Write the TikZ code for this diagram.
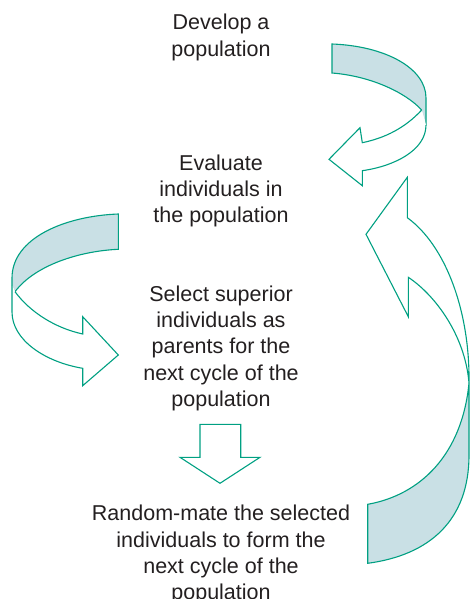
\documentclass[tikz,border=0pt]{standalone}
\usepackage{fontspec}
\setmainfont{Liberation Sans}
\usepackage{tikz}
\usetikzlibrary{arrows}
\definecolor{tealgreen}{RGB}{0,160,130}
\definecolor{bandblue}{RGB}{201,224,229}
\definecolor{textgray}{RGB}{35,31,32}

\begin{document}
\begin{tikzpicture}[x=1pt, y=-1pt, % 1 Einheit = 1pt, y zeigt nach unten
  band/.style={fill=bandblue, draw=tealgreen, line width=1.1pt},
  front/.style={fill=white, draw=tealgreen, line width=1.1pt},
  schritt/.style={align=center, inner sep=0pt, anchor=north, text=textgray, font=\fontsize{21.5}{26.3}\selectfont}]

\useasboundingbox (0,0) rectangle (470,599);

% Schritte
\node[schritt] (develop) at (221,14.2) {Develop a\\population};
\node[schritt] (evaluate) at (221,154.5) {Evaluate\\individuals in\\the population};
\node[schritt] (select) at (221,285.5) {Select superior\\individuals as\\parents for the\\next cycle of the\\population};
\node[schritt] (mate) at (221,505) {Random-mate the selected\\individuals to form the\\next cycle of the\\population};

% Pfeil oben rechts
\draw[band] (421.7,110) .. controls (405,92) and (370,76) .. (332,73) -- (332,44)
  .. controls (385,46) and (426,68) .. (426,98) -- (426,125);
\draw[front] (421.7,110) .. controls (405,128) and (385,138) .. (362.3,142.7) -- (360,127.7)
  -- (329,159.3) -- (362.3,185.7) -- (362.3,170.7) .. controls (395,166) and (426,150) .. (426,125);

% Pfeil links
\draw[band] (15,291.7) .. controls (35,265) and (80,251) .. (118.3,249.3) -- (118.3,214)
  .. controls (65,216) and (12,238) .. (12,278) -- (12,285);
\draw[front] (15,291.7) .. controls (30,312) and (55,328) .. (82.7,334) -- (82.7,316.7)
  -- (118.3,355) -- (82.7,385.7) -- (82.7,368.3) .. controls (45,362) and (12,340) .. (12,312) -- (12,285);

% Pfeil nach unten
\draw[tealgreen, line width=1.1pt] (200,424.3) -- (240.7,424.3) -- (240.7,457.3) -- (260,457.3)
  -- (220,483.3) -- (180,457.3) -- (200,457.3) -- cycle;

% grosser Pfeil rechts
\draw[band] (367.7,504.3) .. controls (420,495) and (462,455) .. (469,383) -- (469,455)
  .. controls (469,520) and (430,555) .. (367.7,563.3) -- cycle;
\draw[front] (469,383) .. controls (470,310) and (445,245) .. (407.3,217.7) -- (407.3,177.3)
  -- (366,234.3) -- (408.3,316.7) -- (408.3,277.3) .. controls (435,295) and (465,335) .. (469,383) -- cycle;

\end{tikzpicture}
\end{document}
